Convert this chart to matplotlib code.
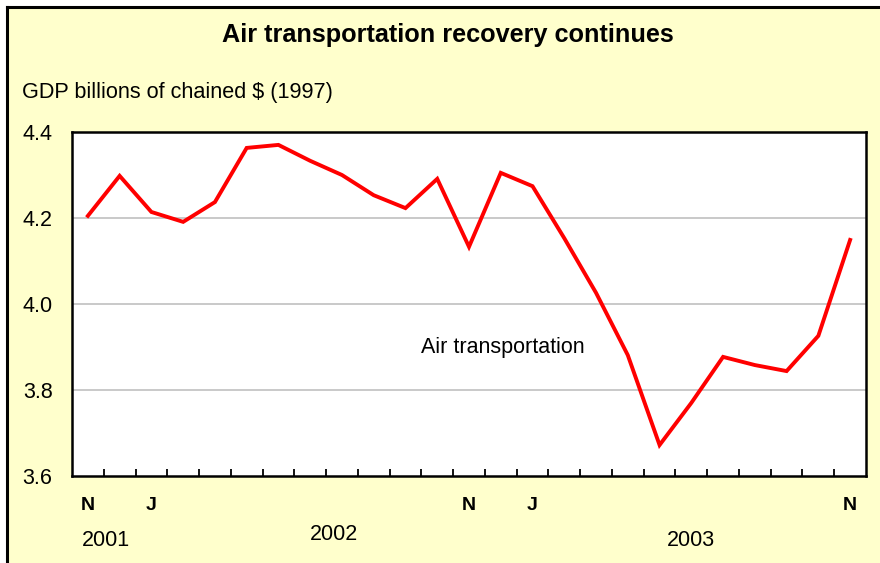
import matplotlib
matplotlib.use("Agg")
import matplotlib.pyplot as plt
from matplotlib.patches import Rectangle
from matplotlib.lines import Line2D
import matplotlib.transforms as mtransforms

plt.rcParams['font.family'] = ['Liberation Sans', 'DejaVu Sans']

# Data: monthly, Nov 2001 .. Nov 2003
values = [4.205, 4.298, 4.214, 4.191, 4.237, 4.363, 4.370, 4.333, 4.300,
          4.253, 4.223, 4.291, 4.133, 4.305, 4.274, 4.153, 4.026, 3.881,
          3.672, 3.770, 3.877, 3.858, 3.844, 3.926, 4.149]
month_label_idx = [0, 2, 12, 14, 24]
month_labels = ['N', 'J', 'N', 'J', 'N']
year_labels = ['2001', '2002', '2003']
year_pos = [0.57, 7.75, 19.0]
y_ticks = [3.6, 3.8, 4.0, 4.2, 4.4]
title = 'Air transportation recovery continues'
ylabel = 'GDP billions of chained $ (1997)'
series_label = 'Air transportation'

W, H = 880, 563
fig = plt.figure(figsize=(W / 100, H / 100), dpi=100, facecolor='white')

# yellow background panel with top/left border
bg = Rectangle((7 / W, 0), 1 - 7 / W, 1 - 7 / H, transform=fig.transFigure,
               facecolor='#FFFFCC', edgecolor='none', zorder=-10)
fig.patches.append(bg)
fig.lines.append(Line2D([7 / W, 1], [1 - 7 / H, 1 - 7 / H], transform=fig.transFigure,
                        color='black', lw=2.2, zorder=-5))
fig.lines.append(Line2D([7 / W, 7 / W], [0, 1 - 7 / H], transform=fig.transFigure,
                        color='black', lw=2.2, zorder=-5))

ax = fig.add_axes([72 / W, (H - 476) / H, (866 - 72) / W, (476 - 132) / H])
ax.set_zorder(5)
ax.set_facecolor('white')
x = list(range(len(values)))
ax.plot(x, values, color='#FF0000', lw=2.8, solid_joinstyle='miter', zorder=3)

ax.set_xlim(-0.5, len(values) - 0.5)
ax.set_ylim(3.6, 4.4)
ax.set_yticks(y_ticks)
ax.set_yticklabels([f'{v:.1f}' for v in y_ticks], fontsize=15.5)
ax.tick_params(axis='y', length=0, pad=14)
for v in y_ticks[1:-1]:
    ax.axhline(v, color='#C0C0C0', lw=1.2, zorder=1)

ax.set_xticks([i + 0.5 for i in range(len(values) - 1)])
ax.set_xticklabels([])
ax.tick_params(axis='x', direction='in', length=5, width=1.3, color='black')

for s in ax.spines.values():
    s.set_linewidth(1.8)
    s.set_color('black')

trans = mtransforms.blended_transform_factory(ax.transData, fig.transFigure)
for i, lab in zip(month_label_idx, month_labels):
    ax.text(i, 1 - 506 / H, lab, transform=trans, ha='center', va='center',
            fontsize=14, fontweight='bold')
year_y = [540, 534, 540]
for p, lab, yy in zip(year_pos, year_labels, year_y):
    ax.text(p, 1 - yy / H, lab, transform=trans, ha='center', va='center', fontsize=15.5)

fig.text((421 + 585) / 2 / W, 1 - 347 / H, series_label, ha='center', va='center',
         fontsize=15.5, zorder=10)

fig.text(448 / W, 1 - 35 / H, title, ha='center', va='center', fontsize=18.2, fontweight='bold')
fig.text(22 / W, 1 - 92 / H, ylabel, ha='left', va='center', fontsize=15.6)

fig.savefig('out.png', dpi=100, facecolor='white')
